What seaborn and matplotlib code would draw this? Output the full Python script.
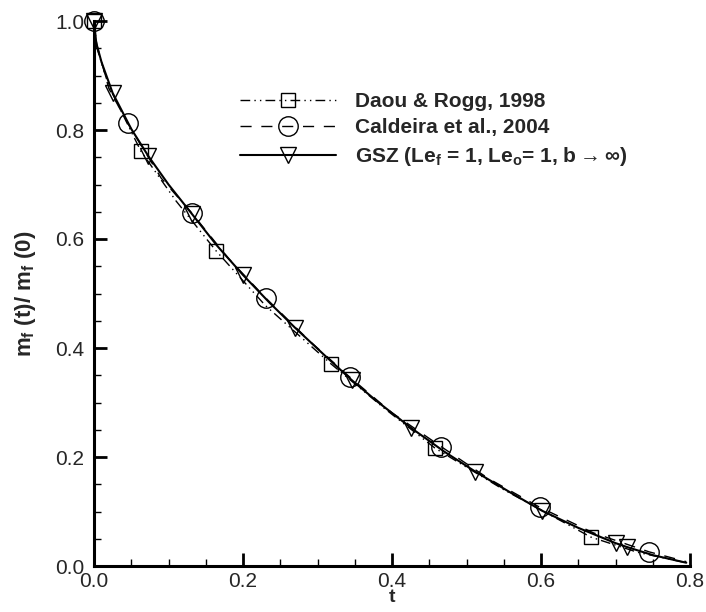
import numpy as np
import matplotlib
matplotlib.use("Agg")
import matplotlib.pyplot as plt
import seaborn as sns

# curves (t, m_f(t)/m_f(0))
daou_t = [0.0, 0.004, 0.02, 0.063, 0.11, 0.164, 0.23, 0.318, 0.39, 0.458, 0.55, 0.667, 0.73, 0.795]
daou_m = [1.0, 0.95, 0.88, 0.761, 0.67, 0.578, 0.478, 0.371, 0.289, 0.216, 0.140, 0.053, 0.025, 0.006]
daou_mark_t = [0.0, 0.063, 0.164, 0.318, 0.458, 0.667]

cald_t = [0.0, 0.004, 0.02, 0.045, 0.09, 0.131, 0.18, 0.231, 0.29, 0.343, 0.40, 0.466, 0.53, 0.598, 0.67, 0.745, 0.795]
cald_m = [1.0, 0.955, 0.876, 0.813, 0.712, 0.648, 0.565, 0.491, 0.412, 0.347, 0.281, 0.219, 0.160, 0.108, 0.061, 0.026, 0.008]
cald_mark_t = [0.0, 0.045, 0.131, 0.231, 0.343, 0.466, 0.598, 0.745]

gsz_t = [0.0, 0.003, 0.01, 0.025, 0.05, 0.073, 0.1, 0.132, 0.165, 0.2, 0.235, 0.27, 0.31, 0.346, 0.38,
         0.426, 0.47, 0.512, 0.56, 0.602, 0.65, 0.7, 0.715, 0.75, 0.795]
gsz_m = [1.0, 0.96, 0.925, 0.868, 0.802, 0.752, 0.700, 0.645, 0.588, 0.534, 0.484, 0.437, 0.386, 0.341, 0.302,
         0.253, 0.210, 0.173, 0.134, 0.101, 0.070, 0.042, 0.035, 0.020, 0.006]
gsz_mark_t = [0.0, 0.025, 0.073, 0.132, 0.2, 0.27, 0.346, 0.426, 0.512, 0.602, 0.7, 0.715]

labels = ["Daou & Rogg, 1998",
          "Caldeira et al., 2004",
          r"GSZ (Le$_f$ = 1, Le$_o$= 1, b$\rightarrow\infty$)"]

sns.set_theme(style="ticks")
plt.rcParams['font.family'] = ['Liberation Sans', 'DejaVu Sans']
plt.rcParams['mathtext.fontset'] = 'custom'
plt.rcParams['mathtext.rm'] = 'Liberation Sans:bold'
plt.rcParams['mathtext.bf'] = 'Liberation Sans:bold'
plt.rcParams['mathtext.default'] = 'bf'

fig = plt.figure(figsize=(7.06, 6.12), dpi=100)
ax = fig.add_axes([94 / 706, 1 - 566 / 612, 596 / 706, 545 / 612])

series = [
    (daou_t, daou_m, daou_mark_t, (0, (7, 3, 1, 3, 1, 3)), 's', 10, 1.0),
    (cald_t, cald_m, cald_mark_t, (0, (8, 7)), 'o', 14, 1.0),
    (gsz_t, gsz_m, gsz_mark_t, '-', 'v', 12, 1.5),
]

for (t, m, mt, ls, mk, ms, lw), lab in zip(series, labels):
    idx = list(np.where(np.isin(t, mt))[0])
    sns.lineplot(x=t, y=m, ax=ax, sort=False, estimator=None, color='black',
                 linestyle=ls, linewidth=lw, marker=mk, markersize=ms,
                 markerfacecolor='none', markeredgecolor='black', markeredgewidth=1.0,
                 markevery=idx, clip_on=False, label=lab)

ax.set_xlim(0, 0.8)
ax.set_ylim(0, 1.0)
ax.set_xticks(np.arange(0, 0.81, 0.2))
ax.set_yticks(np.arange(0, 1.01, 0.2))
ax.set_xticks(np.arange(0, 0.81, 0.05), minor=True)
ax.set_yticks(np.arange(0, 1.01, 0.05), minor=True)
ax.set_xticklabels([f"{v:.1f}" for v in np.arange(0, 0.81, 0.2)])
ax.set_yticklabels([f"{v:.1f}" for v in np.arange(0, 1.01, 0.2)])
ax.tick_params(which='major', direction='in', length=9.5, width=2, labelsize=15, pad=7, color='black')
ax.tick_params(axis='x', which='major', pad=4)
ax.tick_params(which='minor', direction='in', length=5, width=1, color='black')
sns.despine(ax=ax)
for s in ['left', 'bottom']:
    ax.spines[s].set_linewidth(2.2)
    ax.spines[s].set_color('black')

ax.set_xlabel("t", fontsize=14, fontweight='bold', labelpad=-1)
ax.set_ylabel(r"m$_f$ (t)/ m$_f$ (0)", fontsize=16, fontweight='bold', labelpad=12)

leg = ax.legend(loc='upper left', bbox_to_anchor=(0.245, 0.870), frameon=False,
                fontsize=15, handlelength=4.6, handletextpad=0.9, labelspacing=0.36,
                borderpad=0, borderaxespad=0, numpoints=1)
for txt in leg.get_texts():
    txt.set_fontweight('bold')

fig.savefig("out.png", dpi=100)
